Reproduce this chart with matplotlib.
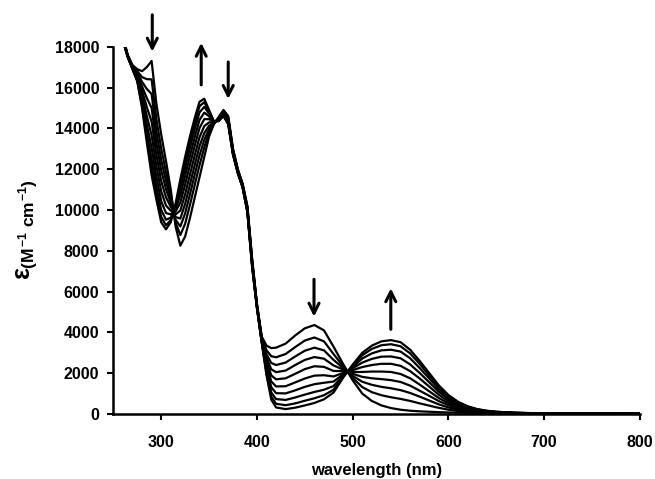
import matplotlib
matplotlib.use("Agg")
import matplotlib.pyplot as plt

plt.rcParams['font.family'] = ['Liberation Sans', 'DejaVu Sans']
plt.rcParams['font.weight'] = 'bold'
plt.rcParams['mathtext.fontset'] = 'custom'
plt.rcParams['mathtext.rm'] = 'Liberation Sans:bold'
plt.rcParams['mathtext.it'] = 'Liberation Sans:bold'
plt.rcParams['mathtext.bf'] = 'Liberation Sans:bold'

# ---------------- data ----------------
wavelength = [255, 260, 265, 270, 275, 280, 285, 290, 295, 300, 305, 310, 315, 320,
              325, 330, 335, 340, 345, 350, 355, 360, 365, 370, 375, 380, 385, 390,
              395, 400, 405, 410, 415, 420, 430, 440, 450, 460, 470, 480, 490, 500,
              510, 520, 530, 540, 550, 560, 570, 580, 590, 600, 610, 620, 630, 640,
              650, 670, 700, 750, 800]

spec_0 = [19800, 18500, 17600, 17100, 16900, 16800, 17000, 17300, 15200, 13700, 12400, 11000, 9200, 8250,
          8700, 9600, 10600, 11600, 12600, 13600, 14200, 14550, 14900, 14600, 13000, 12000, 11300, 10200,
          7600, 5400, 3800, 3350, 3230, 3250, 3450, 3850, 4200, 4360, 4100, 3300, 2450, 1650,
          1000, 640, 420, 290, 210, 160, 130, 110, 90, 75, 65, 55, 45, 40,
          35, 25, 20, 15, 10]
spec_1 = [19750, 18470, 17580, 17070, 16800, 16510, 16410, 16400, 14450, 13010, 11860, 10740, 9380, 8770,
          9320, 10240, 11220, 12190, 13060, 13810, 14220, 14520, 14850, 14540, 12950, 11970, 11270, 10150,
          7540, 5370, 3750, 3120, 2830, 2780, 2940, 3280, 3600, 3750, 3560, 2940, 2340, 1770,
          1320, 1070, 920, 820, 740, 640, 520, 410, 300, 210, 150, 110, 80, 60,
          50, 30, 20, 15, 10]
spec_2 = [19710, 18440, 17570, 17040, 16730, 16280, 15930, 15680, 13840, 12450, 11430, 10540, 9520, 9190,
          9830, 10760, 11730, 12670, 13430, 13980, 14240, 14490, 14810, 14480, 12910, 11940, 11240, 10110,
          7480, 5340, 3710, 2930, 2500, 2400, 2520, 2820, 3100, 3250, 3120, 2650, 2260, 1870,
          1580, 1430, 1330, 1260, 1170, 1030, 850, 660, 470, 320, 220, 150, 100, 75,
          60, 35, 20, 15, 10]
spec_3 = [19680, 18420, 17560, 17020, 16650, 16060, 15480, 15000, 13270, 11940, 11030, 10340, 9650, 9580,
          10300, 11240, 12200, 13120, 13770, 14130, 14260, 14470, 14780, 14440, 12880, 11920, 11220, 10080,
          7440, 5320, 3680, 2760, 2190, 2050, 2130, 2400, 2650, 2790, 2710, 2380, 2180, 1970,
          1820, 1750, 1710, 1660, 1570, 1390, 1140, 890, 630, 430, 280, 190, 125, 90,
          65, 40, 25, 17, 10]
spec_4 = [19640, 18390, 17550, 16990, 16580, 15850, 15040, 14330, 12710, 11420, 10620, 10150, 9780, 9970,
          10770, 11720, 12670, 13560, 14110, 14290, 14280, 14440, 14740, 14390, 12840, 11890, 11190, 10040,
          7390, 5290, 3640, 2580, 1890, 1700, 1750, 1970, 2200, 2340, 2310, 2110, 2100, 2060,
          2060, 2080, 2080, 2060, 1960, 1750, 1440, 1110, 780, 530, 350, 230, 150, 105,
          75, 45, 25, 18, 10]
spec_5 = [19600, 18370, 17540, 16970, 16510, 15630, 14600, 13660, 12150, 10910, 10220, 9960, 9920, 10360,
          11240, 12200, 13140, 14010, 14450, 14450, 14300, 14420, 14710, 14340, 12810, 11870, 11170, 10010,
          7340, 5270, 3610, 2410, 1590, 1350, 1360, 1550, 1740, 1880, 1900, 1840, 2010, 2150,
          2300, 2400, 2460, 2460, 2360, 2100, 1740, 1340, 940, 630, 410, 270, 170, 120,
          85, 50, 27, 18, 10]
spec_6 = [19570, 18350, 17520, 16950, 16440, 15430, 14190, 13040, 11630, 10430, 9850, 9780, 10040, 10720,
          11660, 12640, 13560, 14410, 14770, 14590, 14310, 14400, 14670, 14300, 12770, 11850, 11150, 9970,
          7300, 5250, 3570, 2250, 1310, 1020, 1010, 1160, 1330, 1460, 1530, 1590, 1940, 2240,
          2520, 2700, 2810, 2820, 2730, 2430, 2010, 1550, 1090, 730, 470, 300, 195, 130,
          90, 50, 28, 19, 10]
spec_7 = [19540, 18330, 17510, 16930, 16380, 15250, 13820, 12480, 11160, 10000, 9520, 9620, 10150, 11050,
          12050, 13040, 13950, 14780, 15050, 14720, 14330, 14380, 14640, 14260, 12740, 11830, 11130, 9940,
          7260, 5230, 3540, 2100, 1050, 730, 690, 810, 950, 1080, 1190, 1370, 1870, 2310,
          2720, 2970, 3120, 3150, 3060, 2730, 2250, 1740, 1220, 810, 525, 335, 210, 145,
          100, 55, 29, 19, 10]
spec_8 = [19520, 18310, 17510, 16910, 16340, 15110, 13520, 12040, 10780, 9660, 9250, 9500, 10230, 11310,
          12370, 13360, 14270, 15080, 15280, 14820, 14340, 14360, 14620, 14220, 12720, 11810, 11110, 9920,
          7220, 5210, 3520, 1990, 850, 500, 430, 520, 650, 770, 920, 1190, 1820, 2370,
          2880, 3190, 3370, 3420, 3320, 2970, 2450, 1890, 1320, 880, 570, 360, 230, 150,
          105, 58, 29, 20, 10]
spec_9 = [19500, 18300, 17500, 16900, 16300, 15000, 13300, 11700, 10500, 9400, 9050, 9400, 10300, 11500,
          12600, 13600, 14500, 15300, 15450, 14900, 14350, 14350, 14600, 14200, 12700, 11800, 11100, 9900,
          7200, 5200, 3500, 1900, 700, 320, 240, 310, 420, 540, 720, 1050, 1780, 2420,
          3000, 3350, 3560, 3620, 3520, 3150, 2600, 2000, 1400, 930, 600, 380, 240, 160,
          110, 60, 30, 20, 10]

# arrows: (wavelength, start epsilon, end epsilon)
arrow_x = [290.7, 341.8, 370.0, 459.6, 539.8]
arrow_from = [19560, 16130, 17250, 6600, 4150]
arrow_to = [17760, 18190, 15440, 4770, 6160]

x_ticks = [300, 400, 500, 600, 700, 800]
y_ticks = [0, 2000, 4000, 6000, 8000, 10000, 12000, 14000, 16000, 18000]

# ---------------- figure ----------------
fig = plt.figure(figsize=(6.55, 4.79), dpi=100)
ax = fig.add_axes([0.173, 0.1357, 0.804, 0.7668])

for s in [spec_0, spec_1, spec_2, spec_3, spec_4, spec_5, spec_6, spec_7, spec_8, spec_9]:
    ax.plot(wavelength, s, color='black', lw=1.6, solid_joinstyle='round')

for x, y0, y1 in zip(arrow_x, arrow_from, arrow_to):
    ax.annotate('', xy=(x, y1), xytext=(x, y0),
                arrowprops=dict(arrowstyle='->', lw=2.2, color='black',
                                mutation_scale=18, shrinkA=0, shrinkB=0),
                annotation_clip=False)

ax.set_xlim(250, 800)
ax.set_ylim(0, 18000)
ax.set_xticks(x_ticks)
ax.set_yticks(y_ticks)
ax.set_xticklabels([str(t) for t in x_ticks], fontsize=11.5, fontweight='bold')
ax.set_yticklabels([str(t) for t in y_ticks], fontsize=11.5, fontweight='bold')

for side in ['top', 'right']:
    ax.spines[side].set_visible(False)
for side in ['left', 'bottom']:
    ax.spines[side].set_linewidth(1.8)

ax.tick_params(axis='y', direction='out', length=4, width=1.5, pad=6)
ax.tick_params(axis='x', direction='out', length=4, width=1.5, pad=11)

fig.text(0.575, 0.008, 'wavelength (nm)', ha='center', va='baseline',
         fontsize=12, fontweight='bold')
fig.text(0.040, 0.52, r'$ε_{(M^{-1}\ cm^{-1})}$', rotation=90, ha='center', va='center',
         fontsize=18)

fig.savefig('out.png', dpi=100)
